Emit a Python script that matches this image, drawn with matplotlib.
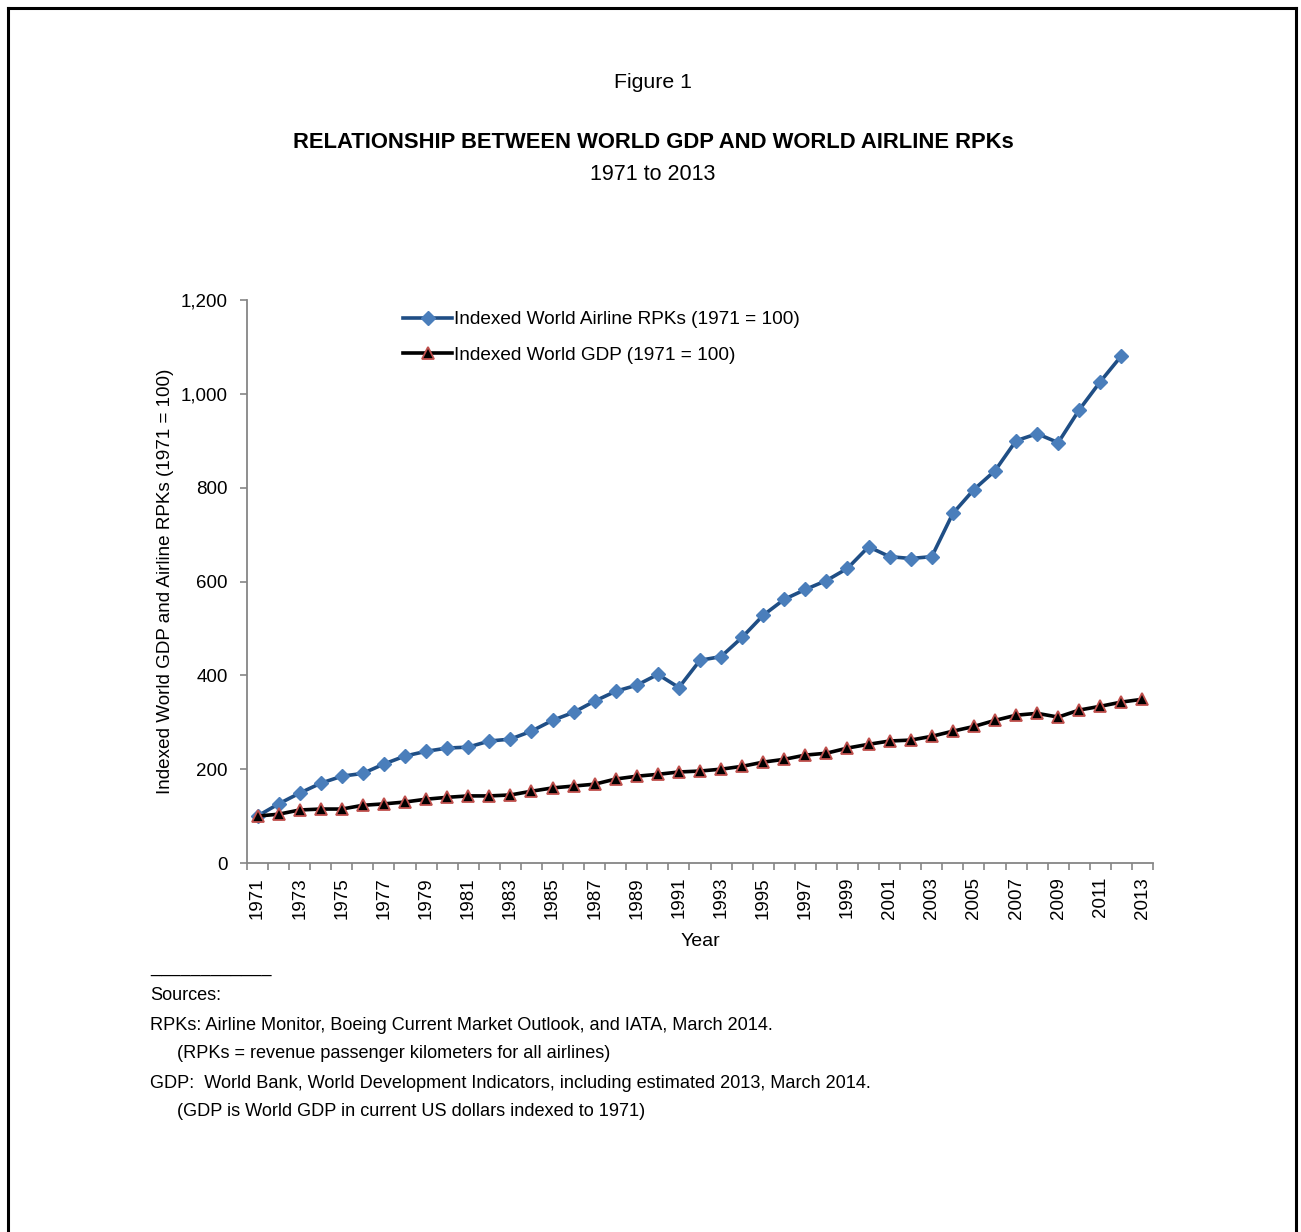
import numpy as np
import matplotlib
matplotlib.use("Agg")
import matplotlib.pyplot as plt
from matplotlib.lines import Line2D

# Data: indexed series, 1971 = 100
years = list(range(1971, 2014))
rpk_index = [100, 126, 149, 170, 185, 191, 211, 228, 238, 245,
             247, 260, 264, 281, 304, 321, 345, 366, 379, 402,
             374, 432, 440, 481, 528, 562, 583, 602, 628, 674,
             653, 649, 653, 745, 796, 836, 900, 915, 896, 966,
             1026, 1081]
gdp_index = [100, 104, 113, 115, 115, 123, 126, 130, 136, 140,
             143, 143, 145, 153, 160, 164, 168, 179, 185, 189,
             194, 196, 200, 206, 215, 221, 230, 234, 245, 253,
             260, 262, 270, 281, 291, 304, 315, 319, 311, 326,
             334, 343, 349]
y_ticks = [0, 200, 400, 600, 800, 1000, 1200]
y_tick_labels = ["0", "200", "400", "600", "800", "1,000", "1,200"]

plt.rcParams["font.family"] = ["Liberation Sans", "DejaVu Sans"]

W, H = 1301, 1232
fig = plt.figure(figsize=(W / 100, H / 100), dpi=100)
fig.patch.set_facecolor("white")

# page frame (open at the bottom)
frame_kw = dict(color="black", lw=2.2, transform=fig.transFigure, clip_on=False)
fig.add_artist(Line2D([8 / W, 8 / W], [0, 1 - 8 / H], **frame_kw))
fig.add_artist(Line2D([8 / W, 1296 / W], [1 - 8 / H, 1 - 8 / H], **frame_kw))
fig.add_artist(Line2D([1296 / W, 1296 / W], [0, 1 - 8 / H], **frame_kw))

# titles
fig.text(653 / W, 1 - 82 / H, "Figure 1", ha="center", va="center", fontsize=15.3)
fig.text(653 / W, 1 - 143 / H, "RELATIONSHIP BETWEEN WORLD GDP AND WORLD AIRLINE RPKs",
         ha="center", va="center", fontsize=15.8, fontweight="bold")
fig.text(653 / W, 1 - 175 / H, "1971 to 2013", ha="center", va="center", fontsize=15.5)

left, right, bottom, top = 247, 1153, 863, 300
ax = fig.add_axes([left / W, 1 - bottom / H, (right - left) / W, (bottom - top) / H])

x = np.arange(len(years))
ax.plot(x[:len(rpk_index)], rpk_index, color="#1F4E85", lw=2.6, marker="D",
        markersize=7.5, markerfacecolor="#4A7EBB", markeredgecolor="#4A7EBB",
        label="Indexed World Airline RPKs (1971 = 100)", zorder=3)
ax.plot(x, gdp_index, color="black", lw=2.6, marker="^",
        markersize=8, markerfacecolor="black", markeredgecolor="#C0504D",
        markeredgewidth=1.3, label="Indexed World GDP (1971 = 100)", zorder=3)

ax.set_xlim(-0.5, len(years) - 0.5)
ax.set_ylim(0, 1200)

spine_color = "#868686"
for s in ("top", "right"):
    ax.spines[s].set_visible(False)
for s in ("left", "bottom"):
    ax.spines[s].set_color(spine_color)
    ax.spines[s].set_linewidth(1.3)

ax.set_yticks(y_ticks)
ax.set_yticklabels(y_tick_labels)
ax.tick_params(axis="y", direction="out", length=5, width=1.2, color=spine_color,
               labelsize=13.5, pad=9)

label_pos = x[::2]
ax.set_xticks(label_pos)
ax.set_xticklabels([str(years[i]) for i in label_pos], rotation=90)
ax.set_xticks(np.arange(-0.5, len(years), 1), minor=True)
ax.tick_params(axis="x", which="major", length=0, labelsize=13.5, pad=10)
ax.tick_params(axis="x", which="minor", direction="out", length=5, width=1.2,
               color=spine_color)

ax.set_xlabel("Year", fontsize=14, labelpad=10)
ax.set_ylabel("Indexed World GDP and Airline RPKs (1971 = 100)", fontsize=13.6, labelpad=5)

ax.legend(loc="upper left", bbox_to_anchor=(0.164, 0.994), frameon=False, fontsize=13.7,
          handlelength=2.58, handletextpad=0.1, labelspacing=0.95, borderaxespad=0)

# source notes
notes = [
    (150, 968, "____________"),
    (150, 996, "Sources:"),
    (150, 1025, "RPKs: Airline Monitor, Boeing Current Market Outlook, and IATA, March 2014."),
    (177, 1054, "(RPKs = revenue passenger kilometers for all airlines)"),
    (150, 1083, "GDP:  World Bank, World Development Indicators, including estimated 2013, March 2014."),
    (177, 1112, "(GDP is World GDP in current US dollars indexed to 1971)"),
]
for nx, ny, t in notes:
    fig.text(nx / W, 1 - ny / H, t, ha="left", va="center", fontsize=13.1)

fig.savefig("out.png", dpi=100)
